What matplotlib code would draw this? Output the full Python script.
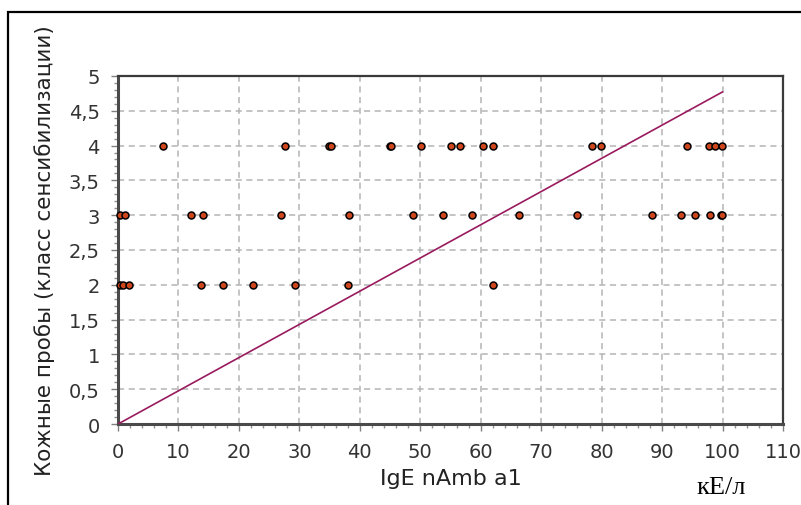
import matplotlib
matplotlib.use('Agg')
import matplotlib.pyplot as plt
from matplotlib.ticker import MultipleLocator, FuncFormatter
from matplotlib.patches import Rectangle

# IgE levels for each skin test class
igE_class4 = [7.5, 27.7, 34.9, 35.2, 45.0, 45.2, 50.1, 55.1, 56.5, 60.4, 62.1,
              78.4, 79.9, 94.2, 97.8, 98.8, 99.9]
igE_class3 = [0.3, 1.2, 12.0, 14.1, 27.0, 38.2, 48.8, 53.8, 58.5, 66.4, 76.0,
              88.3, 93.2, 95.5, 97.9, 99.8, 99.9]
igE_class2 = [0.4, 0.9, 1.9, 13.7, 17.4, 22.3, 29.3, 38.1, 62.1]

# trend line ends
trend_x = [0, 100]
trend_y = [0, 4.77]

xs = igE_class4 + igE_class3 + igE_class2
ys = [4] * len(igE_class4) + [3] * len(igE_class3) + [2] * len(igE_class2)

fig = plt.figure(figsize=(8.01, 5.06), dpi=100)
ax = fig.add_axes([0.1473, 0.160, 0.8302, 0.688])

# outer frame
fig.patches.append(Rectangle((8 / 801, -0.05), 1.2, (506 - 13) / 506 + 0.05,
                             transform=fig.transFigure, fill=False,
                             edgecolor='black', linewidth=1.6, zorder=0))

ax.plot(trend_x, trend_y, color='#9a1a5e', linewidth=1.2, zorder=3)
ax.plot(xs, ys, 'o', markersize=5, markerfacecolor='#d0461c',
        markeredgecolor='black', markeredgewidth=1.1, clip_on=False, zorder=4)

ax.set_xlim(0, 110)
ax.set_ylim(0, 5)
ax.xaxis.set_major_locator(MultipleLocator(10))
ax.xaxis.set_minor_locator(MultipleLocator(2))
ax.yaxis.set_major_locator(MultipleLocator(0.5))
ax.yaxis.set_minor_locator(MultipleLocator(0.1))


def comma(v, pos):
    s = ('%g' % v)
    return s.replace('.', ',')


ax.yaxis.set_major_formatter(FuncFormatter(comma))
ax.xaxis.set_major_formatter(FuncFormatter(comma))

ax.grid(True, which='major', color='#b4b4b4', linestyle=(0, (4, 3)), linewidth=1.1)
ax.set_axisbelow(True)

ax.tick_params(which='major', direction='out', length=5, width=1, color='#808080',
               labelsize=14, labelcolor='#333333', pad=8)
ax.tick_params(which='minor', direction='out', length=3, width=1, color='#909090')

for side in ['left', 'bottom']:
    ax.spines[side].set_color('#4a4a4a')
    ax.spines[side].set_linewidth(2.2)
for side in ['top', 'right']:
    ax.spines[side].set_color('#3a3a3a')
    ax.spines[side].set_linewidth(1.6)

ax.set_xlabel('IgE nAmb a1', fontsize=16, color='#222222', labelpad=5)
ax.set_ylabel('Кожные пробы (класс сенсибилизации)', fontsize=15.5,
              color='#222222', labelpad=10)

fig.text(0.900, 0.024, 'кЕ/л', fontsize=19, family='Liberation Serif',
         ha='center', va='baseline', color='black')

plt.savefig('out.png', dpi=100)
